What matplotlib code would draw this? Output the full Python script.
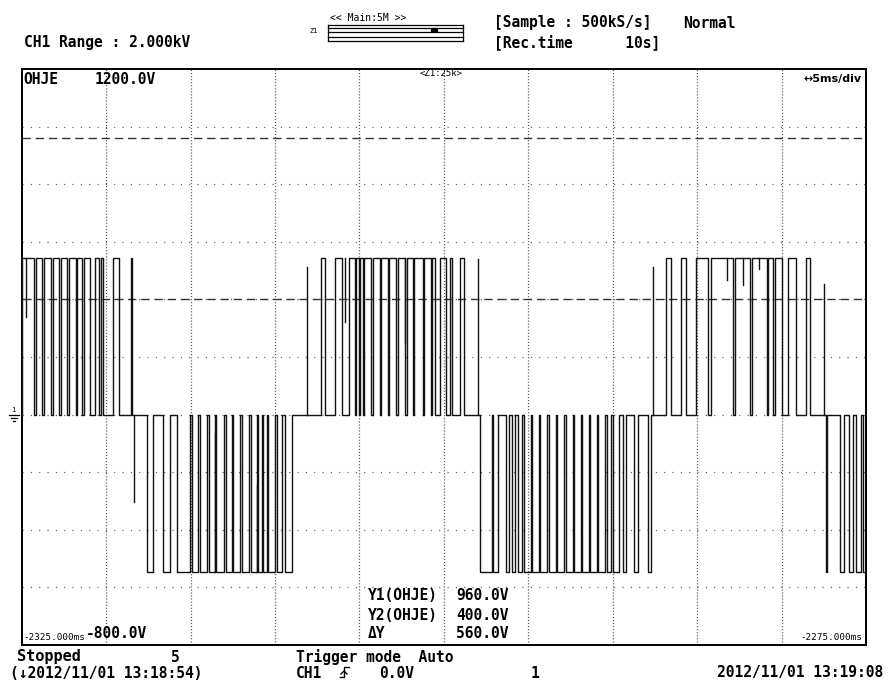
import matplotlib
matplotlib.use("Agg")
import matplotlib.pyplot as plt
from matplotlib.lines import Line2D

# screen geometry of the recorder screenshot
W, H = 893, 684
T0 = -2325.0        # ms at left edge
SPAN = 50.0         # 10 div x 5 ms/div
V_TOP, V_BOT = 1200.0, -800.0
LEVEL = 545.0       # pulse amplitude (V)
Y1, Y2 = 960.0, 400.0

# pulse on-times in ms from the left edge
pos_pulses = [
    (0.00, 0.73), (0.85, 1.20), (1.32, 1.74), (1.86, 2.21), (2.30, 2.69),
    (2.80, 3.19), (3.28, 3.60), (3.69, 4.02), (4.35, 4.58), (4.67, 4.82),
    (5.41, 5.77), (6.48, 6.54),
    (17.75, 17.98), (18.58, 18.96), (19.41, 19.73), (19.82, 19.97),
    (20.06, 20.21), (20.30, 20.71), (20.80, 21.21), (21.30, 21.69),
    (21.78, 22.19), (22.28, 22.70), (22.79, 23.17), (23.26, 23.76),
    (23.85, 24.22), (24.30, 24.47), (24.80, 25.13), (25.39, 25.48),
    (25.93, 26.19),
    (38.14, 38.44), (39.03, 39.33), (39.92, 40.63), (40.81, 42.14),
    (42.23, 43.15), (43.24, 44.13), (44.22, 44.51), (44.60, 45.05),
    (45.37, 45.85), (46.44, 46.71),
]
neg_pulses = [
    (7.41, 7.77), (8.36, 8.79), (9.19, 9.98), (10.08, 10.45), (10.54, 10.99),
    (11.08, 11.43), (11.52, 11.99), (12.08, 12.45), (12.53, 12.94),
    (13.03, 13.48), (13.57, 13.92), (14.01, 14.23), (14.31, 14.53),
    (14.60, 15.02), (15.11, 15.40), (15.61, 16.01),
    (27.17, 27.83), (27.94, 28.18), (28.66, 28.83), (29.01, 29.19),
    (29.37, 29.60), (29.72, 30.14), (30.23, 30.61), (30.70, 31.12),
    (31.20, 31.62), (31.71, 32.12), (32.21, 32.63), (32.72, 33.10),
    (33.19, 33.58), (33.66, 34.05), (34.14, 34.52), (34.64, 34.88),
    (35.00, 35.35), (35.59, 35.77), (36.24, 36.48), (37.07, 37.25),
    (47.63, 47.72), (48.46, 48.69), (48.99, 49.23), (49.41, 49.70),
    (49.82, 50.00),
]
# short glitches: (time ms, from V, to V)
spikes = [
    (0.24, 545, 339), (6.66, 0, -303), (11.47, -545, -64), (13.93, -545, -244),
    (16.90, 0, 512), (19.13, 545, 322), (22.70, 545, 249), (27.04, 0, 540),
    (37.41, 0, 512), (41.76, 545, 467), (42.69, 545, 450), (43.66, 545, 506),
    (47.49, 0, 453),
]

plt.rcParams["lines.scale_dashes"] = False
fig = plt.figure(figsize=(W / 100, H / 100), dpi=100)
fig.patch.set_facecolor("white")

L, R, TOP, BOT = 21.7, 866.0, 69.0, 645.0
ax = fig.add_axes([L / W, 1 - BOT / H, (R - L) / W, (BOT - TOP) / H])
ax.set_xlim(T0, T0 + SPAN)
ax.set_ylim(V_BOT, V_TOP)
ax.set_xticks([])
ax.set_yticks([])
for sp in ax.spines.values():
    sp.set_linewidth(1.4)
    sp.set_color("black")

# grid: 10 x 10 divisions
for k in range(1, 10):
    ax.axvline(T0 + k * 5, color="#555555", lw=0.9, ls=(0, (0.8, 1.4)), zorder=1)
    ax.axhline(V_BOT + k * 200, color="#555555", lw=0.9, ls=(0, (0.8, 5.2)), zorder=1)

# cursors
ax.axhline(Y1, color="#333333", lw=1.0, ls=(0, (6, 3.5)), zorder=2)
ax.axhline(Y2, color="#333333", lw=1.0, ls=(0, (6, 3.5)), zorder=2)

# build the step trace
segs = sorted([(a, b, LEVEL) for a, b in pos_pulses] + [(a, b, -LEVEL) for a, b in neg_pulses])
xs, ys = [0.0], [0.0]
for a, b, lev in segs:
    xs += [a, a, b, b]
    ys += [0.0, lev, lev, 0.0]
xs.append(SPAN)
ys.append(0.0)
ax.plot([T0 + x for x in xs], ys, color="#111111", lw=1.0, zorder=3)
for t, v0, v1 in spikes:
    ax.plot([T0 + t, T0 + t], [v0, v1], color="#111111", lw=1.0, zorder=3)


def put(x, y, s, size=10.5, weight="bold", ha="left", family="DejaVu Sans Mono"):
    fig.text(x / W, 1 - y / H, s, fontsize=size, fontweight=weight,
             ha=ha, va="center", family=family)


def line(xp, yp, lw=1.0, color="black"):
    fig.add_artist(Line2D([x / W for x in xp], [1 - y / H for y in yp],
                          lw=lw, color=color, transform=fig.transFigure))


# header
put(24, 42, "CH1 Range : 2.000kV")
put(330, 18, "<< Main:5M >>", size=7, weight="normal")
put(309, 31, "Z1", size=5, weight="normal")
for yy in (25, 28, 32, 37, 41):
    line([328, 463], [yy, yy], lw=0.9)
line([328, 328], [25, 41], lw=0.9)
line([463, 463], [25, 41], lw=0.9)
line([433, 436], [30, 30], lw=3)
put(494, 23, "[Sample : 500kS/s]")
put(683, 23, "Normal")
put(494, 42, "[Rec.time      10s]")

# inside the screen
put(23, 80, "OHJE")
put(95, 80, "1200.0V")
put(420, 73, "<Z1:25k>", size=6.5, weight="normal")
put(862, 79, "\u21945ms/div", size=8, ha="right", family="DejaVu Sans")
put(23, 637, "-2325.000ms", size=6.7, weight="normal")
put(86, 634, "-800.0V")
put(862, 637, "-2275.000ms", size=6.7, weight="normal", ha="right")
put(368, 596, "Y1(OHJE)")
put(368, 615, "Y2(OHJE)")
put(368, 634, "\u0394Y")
put(456, 596, "960.0V")
put(456, 615, "400.0V")
put(456, 634, "560.0V")

# ground marker at 0 V
put(11, 410, "1", size=5, weight="normal")
line([9, 19], [415, 415], lw=0.9)
line([11, 17], [418, 418], lw=0.9)
line([13, 15], [421, 421], lw=0.9)

# footer
put(17, 657, "Stopped", size=11)
put(171, 657, "5")
put(10, 673, "(\u21932012/11/01 13:18:54)")
put(296, 657, "Trigger mode  Auto")
put(296, 673, "CH1")
line([340, 344, 344, 349], [677, 677, 667, 667], lw=1.0)
line([341, 344, 347], [674, 671, 674], lw=1.0)
put(379, 673, "0.0V")
put(531, 673, "1")
put(883, 673, "2012/11/01 13:19:08", ha="right")

fig.savefig("out.png", dpi=100)
